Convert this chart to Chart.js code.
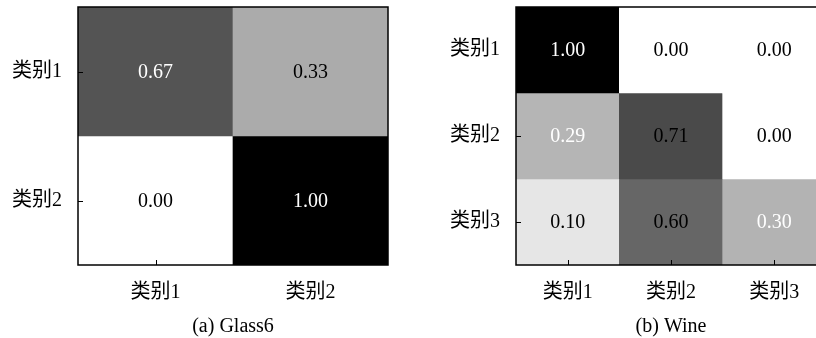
<!DOCTYPE html>
<html>
<head>
<meta charset="utf-8">
<script src="https://cdn.jsdelivr.net/npm/chart.js@4/dist/chart.umd.min.js"></script>
<style>
  html, body { margin: 0; padding: 0; background: #fff; }
  body { width: 816px; height: 338px; overflow: hidden; position: relative; }
  canvas { position: absolute; top: 0; }
  #glass { left: 0; }
  #wine { left: 410px; }
</style>
</head>
<body>
<canvas id="glass" width="410" height="338"></canvas>
<canvas id="wine" width="430" height="338"></canvas>
<script>
// Confusion matrices (rows = true class, columns = predicted class)
const glassLabels = ['类别1', '类别2'];
const glassValues = [
  [0.67, 0.33],
  [0.00, 1.00]
];
const glassInk = [
  ['#fff', '#000'],
  ['#000', '#fff']
];

const wineLabels = ['类别1', '类别2', '类别3'];
const wineValues = [
  [1.00, 0.00, 0.00],
  [0.29, 0.71, 0.00],
  [0.10, 0.60, 0.30]
];
const wineInk = [
  ['#fff', '#000', '#000'],
  ['#fff', '#000', '#000'],
  ['#000', '#000', '#fff']
];

const FONT = '"Liberation Serif", "Noto Sans CJK SC", serif';

// white (0) to black (1)
function shade(v) {
  const g = Math.round(255 * (1 - v));
  return `rgb(${g},${g},${g})`;
}

// cell value text, inward tick marks and frame
const matrixDecor = {
  id: 'matrixDecor',
  afterDatasetsDraw(chart, args, opts) {
    const ctx = chart.ctx;
    const area = chart.chartArea;
    ctx.save();
    ctx.font = `20px ${FONT}`;
    ctx.textAlign = 'center';
    ctx.textBaseline = 'middle';
    opts.values.forEach((row, r) => {
      const meta = chart.getDatasetMeta(r);
      row.forEach((v, c) => {
        const p = meta.data[c].getCenterPoint();
        ctx.fillStyle = opts.ink[r][c];
        ctx.fillText(v.toFixed(2), p.x, p.y + 1);
      });
    });
    // inward ticks
    ctx.strokeStyle = '#000';
    ctx.lineWidth = 1;
    const xs = chart.scales.x, ys = chart.scales.y;
    ctx.beginPath();
    xs.ticks.forEach((t, i) => {
      const x = Math.round(xs.getPixelForTick(i)) + 0.5;
      ctx.moveTo(x, area.bottom);
      ctx.lineTo(x, area.bottom - 5);
    });
    ys.ticks.forEach((t) => {
      const y = Math.round(ys.getPixelForValue(t.value)) + 0.5;
      ctx.moveTo(area.left, y);
      ctx.lineTo(area.left + 5, y);
    });
    ctx.stroke();
    // frame
    ctx.lineWidth = 1.5;
    ctx.strokeRect(area.left, area.top, area.right - area.left, area.bottom - area.top);
    ctx.restore();
  }
};

function matrixChart(id, labels, values, ink, caption, yWidth, padRight) {
  const n = values.length;
  const datasets = values.map((row, r) => ({
    data: row.map(() => [r, r + 1]),
    backgroundColor: row.map(shade),
    borderWidth: 0,
    categoryPercentage: 1,
    barPercentage: 1,
    grouped: false
  }));
  return new Chart(document.getElementById(id), {
    type: 'bar',
    data: { labels: labels, datasets: datasets },
    plugins: [matrixDecor],
    options: {
      responsive: false,
      animation: false,
      layout: { padding: { top: 7, right: padRight, left: 0, bottom: 0 } },
      plugins: {
        legend: { display: false },
        tooltip: { enabled: false },
        matrixDecor: { values: values, ink: ink }
      },
      scales: {
        x: {
          grid: { display: false, drawTicks: false },
          border: { display: false },
          ticks: { color: '#000', font: { family: FONT, size: 20 }, padding: 16, maxRotation: 0 },
          title: { display: true, text: caption, color: '#000', font: { family: FONT, size: 20 }, padding: { top: 0, bottom: -1 } },
          afterFit(s) { s.height = 73; s.paddingLeft = 0; s.paddingRight = 0; }
        },
        y: {
          type: 'linear',
          min: 0,
          max: n,
          reverse: true,
          grid: { display: false, drawTicks: false },
          border: { display: false },
          afterBuildTicks(s) { s.ticks = labels.map((_, i) => ({ value: i + 0.5 })); },
          ticks: {
            color: '#000',
            font: { family: FONT, size: 20 },
            padding: 16,
            callback: (v) => labels[Math.floor(v)]
          },
          afterFit(s) { s.width = yWidth; s.paddingTop = 0; s.paddingBottom = 0; }
        }
      }
    }
  });
}

matrixChart('glass', glassLabels, glassValues, glassInk, '(a) Glass6', 78, 22);
matrixChart('wine', wineLabels, wineValues, wineInk, '(b) Wine', 106, 14);
</script>
</body>
</html>
